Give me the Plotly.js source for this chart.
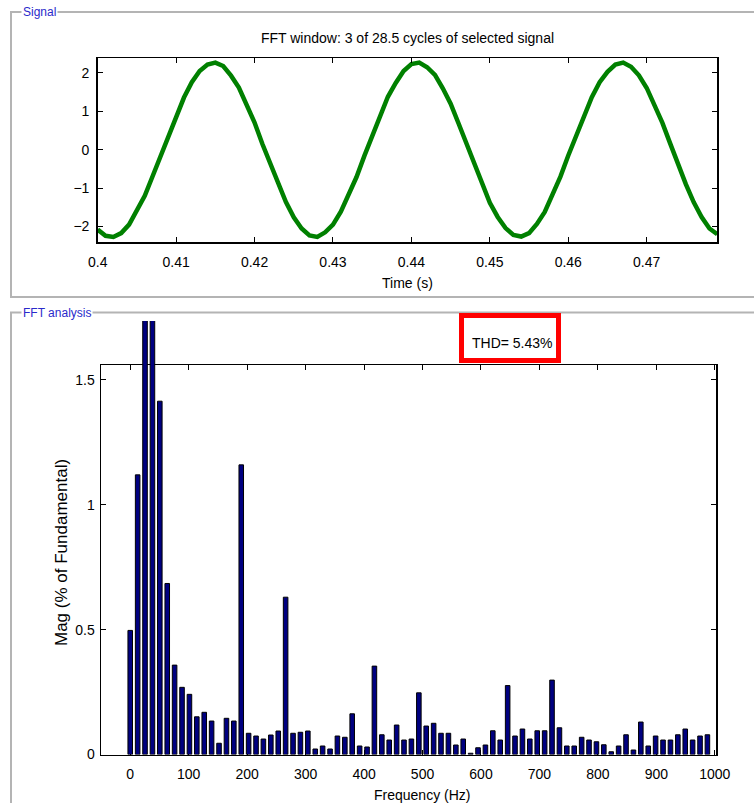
<!DOCTYPE html>
<html>
<head>
<meta charset="utf-8">
<script src="https://cdn.plot.ly/plotly-3.0.1.min.js"></script>
<style>
html,body{margin:0;padding:0;background:#fff;}
#chart{width:754px;height:803px;}
</style>
</head>
<body>
<div id="chart"></div>
<script>
// ---- Signal (top panel): time (s) and value ----
const signalTime = [
0.400,0.401,0.402,0.403,0.404,0.405,0.406,0.407,0.408,0.409,
0.410,0.411,0.412,0.413,0.414,0.415,0.416,0.417,0.418,0.419,
0.420,0.421,0.422,0.423,0.424,0.425,0.426,0.427,0.428,0.429,
0.430,0.431,0.432,0.433,0.434,0.435,0.436,0.437,0.438,0.439,
0.440,0.441,0.442,0.443,0.444,0.445,0.446,0.447,0.448,0.449,
0.450,0.451,0.452,0.453,0.454,0.455,0.456,0.457,0.458,0.459,
0.460,0.461,0.462,0.463,0.464,0.465,0.466,0.467,0.468,0.469,
0.470,0.471,0.472,0.473,0.474,0.475,0.476,0.477,0.478,0.479];
const signalValue = [
-2.08,-2.24,-2.27,-2.17,-1.95,-1.60,-1.20,-0.69,-0.17,0.39,
0.91,1.36,1.76,2.05,2.22,2.27,2.18,1.93,1.62,1.18,
0.71,0.15,-0.37,-0.91,-1.36,-1.76,-2.05,-2.23,-2.27,-2.15,
-1.95,-1.61,-1.18,-0.71,-0.16,0.37,0.90,1.38,1.74,2.05,
2.23,2.27,2.15,1.95,1.60,1.20,0.69,0.17,-0.39,-0.89,
-1.38,-1.75,-2.04,-2.22,-2.26,-2.17,-1.93,-1.62,-1.19,-0.70,
-0.15,0.38,0.91,1.37,1.76,2.03,2.22,2.27,2.16,1.94,
1.61,1.18,0.70,0.16,-0.38,-0.90,-1.37,-1.75,-2.05,-2.20];

// ---- FFT analysis (bottom panel): frequency (Hz) and magnitude (% of fundamental) ----
const freqHz = [
0,12.7,25.3,38.0,50.6,63.3,75.9,88.6,101.3,113.9,
126.6,139.2,151.9,164.6,177.2,189.9,202.5,215.2,227.8,240.5,
253.2,265.8,278.5,291.1,303.8,316.5,329.1,341.8,354.4,367.1,
379.7,392.4,405.1,417.7,430.4,443.0,455.7,468.3,481.0,493.7,
506.3,519.0,531.6,544.3,557.0,569.6,582.3,594.9,607.6,620.2,
632.9,645.6,658.2,670.9,683.5,696.2,708.9,721.5,734.2,746.8,
759.5,772.2,784.8,797.5,810.1,822.8,835.4,848.1,860.8,873.4,
886.1,898.7,911.4,924.1,936.7,949.4,962.0,974.7,987.3];
const magPct = [
0.497,1.12,1.74,1.74,1.415,0.685,0.358,0.269,0.241,0.151,
0.169,0.134,0.045,0.145,0.134,1.16,0.085,0.074,0.062,0.078,
0.094,0.63,0.085,0.089,0.094,0.022,0.034,0.022,0.074,0.069,
0.163,0.034,0.030,0.354,0.079,0.058,0.118,0.058,0.062,0.247,
0.114,0.125,0.085,0.085,0.038,0.062,0.005,0.027,0.038,0.095,
0.058,0.276,0.074,0.102,0.062,0.095,0.095,0.298,0.107,0.034,
0.034,0.069,0.058,0.051,0.039,0.011,0.034,0.079,0.018,0.130,
0.034,0.074,0.058,0.058,0.079,0.102,0.058,0.074,0.079];

// ---- text ----
const signalTitle = "FFT window: 3 of 28.5 cycles of selected signal";
const thdText = "THD= 5.43%";

const W = 754, H = 803;
const px = v => v / W;           // pixel x -> paper
const py = v => 1 - v / H;       // pixel y -> paper

const FONT = "Liberation Sans, Arial, sans-serif";
const tickFont = {family: FONT, size: 14, color: "#000"};

// bottom axes: visible frame axis y range [0,1.56], bars drawn on taller y2 with identical scale
const yBotPx = 754.5, yTopPx = 365, yBarTopPx = 321;
const yRange = 1.56;
const y2Range = yRange * (yBotPx - yBotPx + (yBotPx - yBarTopPx)) / (yBotPx - yTopPx);

const traces = [
  {
    type: "scatter", mode: "lines",
    x: signalTime, y: signalValue,
    xaxis: "x3", yaxis: "y3",
    line: {color: "#008000", width: 4.5},
    hoverinfo: "skip", showlegend: false
  },
  {
    type: "scatter", mode: "lines",
    x: [], y: [], xaxis: "x", yaxis: "y",
    showlegend: false, hoverinfo: "skip"
  },
  {
    type: "bar",
    x: freqHz, y: magPct,
    xaxis: "x", yaxis: "y2",
    width: 7.8,
    marker: {color: "#000080", line: {color: "#000", width: 1}},
    hoverinfo: "skip", showlegend: false
  }
];

const frameAxis = {
  showline: true, linecolor: "#000", linewidth: 1.5, mirror: "ticks",
  ticks: "inside", ticklen: 5, tickcolor: "#000", tickwidth: 1,
  showgrid: false, zeroline: false, tickfont: tickFont, fixedrange: true
};

const layout = {
  width: W, height: H,
  margin: {l: 0, r: 0, t: 0, b: 0},
  paper_bgcolor: "#fff", plot_bgcolor: "rgba(0,0,0,0)",
  showlegend: false,
  bargap: 0,
  title: {
    text: signalTitle,
    font: {family: FONT, size: 14, color: "#000"},
    x: px(407.5), xref: "paper", xanchor: "center",
    y: py(38), yref: "paper", yanchor: "middle"
  },
  // top panel
  xaxis3: Object.assign({}, frameAxis, {
    domain: [px(97.7), px(717.3)], anchor: "y3",
    range: [0.4, 0.479], tick0: 0.4, dtick: 0.01,
    ticklabelstandoff: 6
  }),
  yaxis3: Object.assign({}, frameAxis, {
    domain: [py(242.3), py(58)], anchor: "x3",
    range: [-2.41, 2.39], tickvals: [-2, -1, 0, 1, 2],
    ticklabelstandoff: 4
  }),
  // bottom panel (frame)
  xaxis: Object.assign({}, frameAxis, {
    domain: [px(101), px(716)], anchor: "y",
    range: [-50, 1002], tick0: 0, dtick: 100,
    ticklabelstandoff: 6
  }),
  yaxis: Object.assign({}, frameAxis, {
    domain: [py(yBotPx), py(yTopPx)], anchor: "x",
    range: [0, yRange], tickvals: [0, 0.5, 1, 1.5],
    ticklabelstandoff: 2
  }),
  // bottom panel (bars, same scale, taller so the tallest bars run above the frame)
  yaxis2: {
    domain: [py(yBotPx), py(yBarTopPx)], anchor: "x",
    range: [0, y2Range], visible: false, showgrid: false, zeroline: false, fixedrange: true
  },
  shapes: [
    // "Signal" group box
    {type: "rect", xref: "paper", yref: "paper",
     x0: px(11), x1: px(770), y0: py(297), y1: py(12),
     line: {color: "#b4b4b4", width: 2}, layer: "below"},
    // "FFT analysis" group box
    {type: "rect", xref: "paper", yref: "paper",
     x0: px(11), x1: px(770), y0: py(830), y1: py(312.5),
     line: {color: "#b4b4b4", width: 2}, layer: "below"},
    // THD box
    {type: "rect", xref: "paper", yref: "paper",
     x0: px(461.5), x1: px(558.5), y0: py(360.5), y1: py(315.5),
     line: {color: "#ff0000", width: 5}, fillcolor: "#fff", layer: "above"}
  ],
  annotations: [
    {text: "Signal", xref: "paper", yref: "paper", x: px(21), y: py(12.5),
     xanchor: "left", yanchor: "middle", showarrow: false,
     font: {family: FONT, size: 12, color: "#2a2acb"}, bgcolor: "#fff", borderpad: 1},
    {text: "FFT analysis", xref: "paper", yref: "paper", x: px(21), y: py(313),
     xanchor: "left", yanchor: "middle", showarrow: false,
     font: {family: FONT, size: 12, color: "#2a2acb"}, bgcolor: "#fff", borderpad: 1},
    {text: "Time (s)", xref: "paper", yref: "paper", x: px(407.5), y: py(283),
     xanchor: "center", yanchor: "middle", showarrow: false,
     font: {family: FONT, size: 14, color: "#000"}},
    {text: "Frequency (Hz)", xref: "paper", yref: "paper", x: px(422), y: py(795),
     xanchor: "center", yanchor: "middle", showarrow: false,
     font: {family: FONT, size: 14, color: "#000"}},
    {text: "Mag (% of Fundamental)", xref: "paper", yref: "paper", x: px(61), y: py(553),
     xanchor: "center", yanchor: "middle", showarrow: false, textangle: -90,
     font: {family: FONT, size: 17, color: "#000"}},
    {text: thdText, xref: "paper", yref: "paper", x: px(512.5), y: py(343),
     xanchor: "center", yanchor: "middle", showarrow: false,
     font: {family: FONT, size: 14, color: "#000"}}
  ]
};

Plotly.newPlot("chart", traces, layout, {displayModeBar: false, staticPlot: true});
</script>
</body>
</html>
